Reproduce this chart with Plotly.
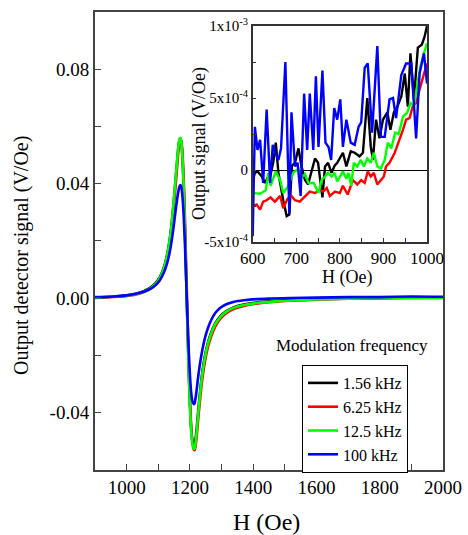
import plotly.graph_objects as go

# ---------------- main plot data (H in Oe, signal in V/Oe) ----------------
H_main = [900, 950, 1000, 1040, 1070, 1090, 1105, 1118, 1128, 1137, 1145, 1152, 1158, 1163,
          1167, 1170, 1173, 1176, 1180, 1184, 1188, 1192, 1196, 1200, 1204, 1208, 1212, 1215,
          1218, 1222, 1227, 1233, 1240, 1248, 1257, 1267, 1280, 1295, 1315, 1340, 1370, 1410,
          1460, 1520, 1600, 1700, 1800, 1900, 2000]

sig_156 = [0.0002, 0.0004, 0.0009, 0.0018, 0.0033, 0.0050, 0.0073, 0.0108, 0.0152, 0.0212,
           0.0290, 0.0378, 0.0457, 0.0522, 0.0552, 0.0558, 0.0543, 0.0498, 0.0398, 0.0248,
           0.0080, -0.0088, -0.0245, -0.0372, -0.0455, -0.0500, -0.0515, -0.0512, -0.0493,
           -0.0450, -0.0387, -0.0318, -0.0254, -0.0200, -0.0156, -0.0122, -0.0089, -0.0065,
           -0.0046, -0.0032, -0.0023, -0.0016, -0.0011, -0.0007, -0.0004, -0.0001, 0.0000,
           0.0001, 0.0002]

sig_625 = [0.0000, 0.0003, 0.0007, 0.0015, 0.0028, 0.0044, 0.0065, 0.0098, 0.0140, 0.0195,
           0.0270, 0.0355, 0.0435, 0.0505, 0.0542, 0.0552, 0.0548, 0.0515, 0.0430, 0.0290,
           0.0120, -0.0050, -0.0210, -0.0350, -0.0450, -0.0505, -0.0530, -0.0532, -0.0518,
           -0.0478, -0.0415, -0.0345, -0.0278, -0.0220, -0.0172, -0.0135, -0.0100, -0.0074,
           -0.0053, -0.0038, -0.0028, -0.0020, -0.0014, -0.0010, -0.0006, -0.0003, -0.0002,
           0.0000, 0.0000]

sig_125 = [0.0001, 0.0004, 0.0008, 0.0016, 0.0030, 0.0047, 0.0070, 0.0105, 0.0150, 0.0210,
           0.0290, 0.0380, 0.0460, 0.0525, 0.0555, 0.0560, 0.0545, 0.0500, 0.0400, 0.0250,
           0.0080, -0.0090, -0.0250, -0.0380, -0.0465, -0.0510, -0.0528, -0.0525, -0.0505,
           -0.0460, -0.0395, -0.0325, -0.0260, -0.0205, -0.0160, -0.0125, -0.0092, -0.0068,
           -0.0048, -0.0034, -0.0025, -0.0018, -0.0013, -0.0009, -0.0005, -0.0003, -0.0001,
           0.0000, 0.0001]

sig_100 = [0.0003, 0.0004, 0.0009, 0.0017, 0.0029, 0.0043, 0.0062, 0.0090, 0.0122, 0.0165,
           0.0220, 0.0280, 0.0333, 0.0370, 0.0390, 0.0395, 0.0388, 0.0360, 0.0295, 0.0195,
           0.0070, -0.0060, -0.0175, -0.0268, -0.0330, -0.0362, -0.0372, -0.0368, -0.0350,
           -0.0315, -0.0268, -0.0222, -0.0178, -0.0138, -0.0105, -0.0078, -0.0053, -0.0035,
           -0.0022, -0.0013, -0.0008, -0.0004, -0.0002, 0.0000, 0.0001, 0.0003, 0.0003,
           0.0005, 0.0004]

# ---------------- inset data (H in Oe, signal in units of 1e-4 V/Oe) ----------------
H_in_156 = [600, 605, 611, 621, 628, 635, 641, 647, 653, 659, 670, 678, 684, 690, 697, 705,
            712, 720, 727, 735, 743, 750, 760, 766, 773, 781, 788, 794, 800, 807, 815, 825,
            834, 845, 853, 863, 871, 876, 883, 891, 899, 909, 916, 924, 932, 941, 949, 956,
            962, 970, 979, 988, 994, 1000]
in_156 = [-0.7, -0.2, -0.1, -0.45, -0.9, -0.5, -0.3, 0.5, 1.9, -0.2, -2.1, -3.2, -3.1, 0.3,
          0.5, 1.5, 0.25, -0.7, -1.0, -0.1, 0.8, 0.5, -1.9, 0.25, 0.5, -0.2, 0.3, 0.5, 0.8,
          1.2, 0.25, 1.3, 1.2, 0.95, 1.2, 5.0, 1.6, 0.7, 3.5, 2.2, 3.5, 4.0, 2.8, 4.0, 4.4,
          5.1, 6.7, 4.4, 8.1, 4.9, 8.5, 8.7, 9.2, 10.0]

H_in_625 = [600, 609, 617, 624, 632, 641, 651, 663, 670, 680, 689, 697, 708, 720, 731, 743,
            754, 762, 770, 777, 789, 800, 807, 818, 830, 840, 849, 857, 864, 871, 878, 886,
            894, 901, 906, 914, 926, 933, 945, 952, 960, 968, 975, 983, 991, 1000]
in_625 = [-2.5, -2.4, -2.75, -2.2, -2.1, -1.9, -2.2, -1.8, -2.65, -2.0, -1.8, -2.1, -2.2,
          -1.8, -1.5, -1.6, -1.4, -1.5, -1.25, -1.8, -1.5, -1.6, -1.1, -1.7, -0.7, -1.0,
          -0.7, -0.9, -0.1, -0.45, -0.2, -1.0, -0.7, -0.45, 0.25, 0.5, 1.2, 1.75, 2.8, 3.5,
          3.6, 4.5, 4.65, 5.6, 6.5, 7.4]

H_in_125 = [600, 610, 617, 625, 630, 636, 641, 653, 663, 670, 680, 693, 705, 712, 720, 728,
            740, 751, 758, 766, 773, 781, 788, 794, 800, 807, 815, 820, 826, 832, 840, 848,
            855, 863, 871, 878, 886, 894, 903, 910, 918, 927, 935, 945, 955, 962, 970, 978,
            985, 993, 1000]
in_125 = [-1.6, -1.65, -1.65, -1.5, -1.4, -0.2, -1.1, -0.1, -0.7, -1.6, -1.2, -0.2, 0.1,
          -0.5, -0.3, -0.9, -0.9, -1.6, -0.7, -0.45, -0.2, -0.45, -0.2, -0.8, -0.45, -0.1,
          -0.6, -0.2, -1.1, 0.5, 0.25, 0.7, 0.25, 0.8, 0.5, 1.2, 0.25, 0.1, 0.7, 1.9, 1.5,
          2.6, 2.5, 3.7, 4.0, 4.65, 4.5, 5.8, 7.2, 8.1, 8.8]

H_in_100 = [600, 605, 611, 617, 624, 632, 640, 646, 652, 659, 665, 675, 684, 689, 697, 703,
            710, 718, 725, 731, 739, 745, 751, 760, 767, 774, 780, 787, 794, 801, 807, 815,
            825, 834, 843, 849, 857, 864, 874, 886, 894, 903, 914, 922, 929, 941, 952, 964,
            975, 983, 993, 1000]
in_100 = [-4.6, 3.0, 1.4, 2.1, -0.9, 4.2, -0.9, 1.75, 1.2, 0.7, 1.5, 7.5, -3.0, 4.0, 0.25,
          0.5, -1.8, 5.3, 1.4, 5.3, 1.4, 6.5, 1.6, 6.9, 1.9, 1.6, 0.7, 4.3, 3.5, 4.9, 1.6,
          3.5, 1.9, 1.75, 3.0, 3.3, 7.1, 7.4, 2.6, 8.6, 2.3, 2.3, 4.9, 5.0, 3.6, 6.6, 7.4,
          7.4, 2.2, 6.7, 8.1, 6.0]

series_names = ["1.56 kHz", "6.25 kHz", "12.5 kHz", "100 kHz"]
series_colors = ["#000000", "#ff0000", "#00ff00", "#0000ff"]

# tick positions and labels (unlabelled entries are the minor ticks)
main_xticks = [900, 1000, 1100, 1200, 1300, 1400, 1500, 1600, 1700, 1800, 1900, 2000]
main_xtext = ["", "1000", "", "1200", "", "1400", "", "1600", "", "1800", "", "2000"]
main_yticks = [-0.06, -0.04, -0.02, 0.0, 0.02, 0.04, 0.06, 0.08, 0.10]
main_ytext = ["", "-0.04", "", "0.00", "", "0.04", "", "0.08", ""]
in_xticks = [600, 650, 700, 750, 800, 850, 900, 950, 1000]
in_xtext = ["600", "", "700", "", "800", "", "900", "", "1000"]
in_yticks = [-5e-4, -2.5e-4, 0.0, 2.5e-4, 5e-4, 7.5e-4, 1e-3]
in_ytext = ["-5x10<sup>-4</sup>", "", "0", "", "5x10<sup>-4</sup>", "", "1x10<sup>-3</sup>"]

W, Hpx = 468, 535
FONT = "Liberation Serif, Times New Roman, serif"

def fnt(size):
    return dict(family=FONT, size=size, color="black")

fig = go.Figure()
main_sig = [sig_156, sig_625, sig_125, sig_100]
for name, col, ys in zip(series_names, series_colors, main_sig):
    fig.add_trace(go.Scatter(x=H_main, y=ys, mode="lines", name=name,
                             line=dict(color=col, width=2.6, shape="spline", smoothing=0.6),
                             xaxis="x", yaxis="y"))

inset_H = [H_in_156, H_in_625, H_in_125, H_in_100]
inset_V = [in_156, in_625, in_125, in_100]
for name, col, xs, ys in zip(series_names, series_colors, inset_H, inset_V):
    fig.add_trace(go.Scatter(x=xs, y=[v * 1e-4 for v in ys], mode="lines", name=name,
                             showlegend=False,
                             line=dict(color=col, width=2.4),
                             xaxis="x2", yaxis="y2"))

def px_x(p):
    return p / W

def px_y(p):
    return 1 - p / Hpx

axcol = "#444444"
incol = "#333333"
fig.update_layout(
    template="none",
    width=W, height=Hpx,
    margin=dict(l=0, r=0, t=0, b=0, pad=0, autoexpand=False),
    paper_bgcolor="white", plot_bgcolor="white",
    font=fnt(19),
    xaxis=dict(domain=[px_x(95), px_x(443)], range=[900, 2000], anchor="y",
               automargin=False,
               showline=True, linecolor=axcol, linewidth=2, mirror=True,
               ticks="inside", ticklen=6, tickwidth=1, tickcolor=axcol,
               tickmode="array", tickvals=main_xticks, ticktext=main_xtext,
               showgrid=False, zeroline=False, tickfont=fnt(19)),
    yaxis=dict(domain=[px_y(469.5), px_y(12)], range=[-0.06, 0.10], anchor="x",
               automargin=False,
               showline=True, linecolor=axcol, linewidth=2, mirror=True,
               ticks="inside", ticklen=6, tickwidth=1, tickcolor=axcol,
               tickmode="array", tickvals=main_yticks, ticktext=main_ytext,
               showgrid=False, zeroline=False, tickfont=fnt(19)),
    xaxis2=dict(domain=[px_x(252.7), px_x(427)], range=[600, 1000], anchor="y2",
                automargin=False,
                showline=True, linecolor=incol, linewidth=1.5, mirror=True,
                ticks="inside", ticklen=4, tickcolor=incol,
                tickmode="array", tickvals=in_xticks, ticktext=in_xtext,
                showgrid=False, zeroline=False, tickfont=fnt(17)),
    yaxis2=dict(domain=[px_y(242), px_y(26)], range=[-5e-4, 1e-3], anchor="x2",
                automargin=False,
                showline=True, linecolor=incol, linewidth=1.5, mirror=True,
                ticks="inside", ticklen=4, tickcolor=incol,
                tickmode="array", tickvals=in_yticks, ticktext=in_ytext,
                showgrid=False, zeroline=True, zerolinecolor="black", zerolinewidth=1.2,
                tickfont=fnt(15)),
    showlegend=True,
    legend=dict(x=px_x(302), y=px_y(365), xanchor="left", yanchor="top",
                bordercolor="black", borderwidth=1, bgcolor="white",
                font=fnt(16), tracegroupgap=0, itemwidth=30),
)

annots = [
    dict(text="Output detector signal (V/Oe)", x=px_x(22), y=px_y(256), textangle=-90,
         font=fnt(20)),
    dict(text="H (Oe)", x=px_x(266), y=px_y(522), font=fnt(24)),
    dict(text="Output signal (V/Oe)", x=px_x(199), y=px_y(144), textangle=-90,
         font=fnt(18)),
    dict(text="H (Oe)", x=px_x(347), y=px_y(277), font=fnt(18)),
    dict(text="Modulation frequency", x=px_x(352), y=px_y(345), font=fnt(17)),
]
for a in annots:
    fig.add_annotation(xref="paper", yref="paper", showarrow=False,
                       xanchor="center", yanchor="middle", **a)

fig.write_html("out.html",
               config={"displayModeBar": False},
               post_script="document.body.style.margin='0';document.body.style.padding='0';")
